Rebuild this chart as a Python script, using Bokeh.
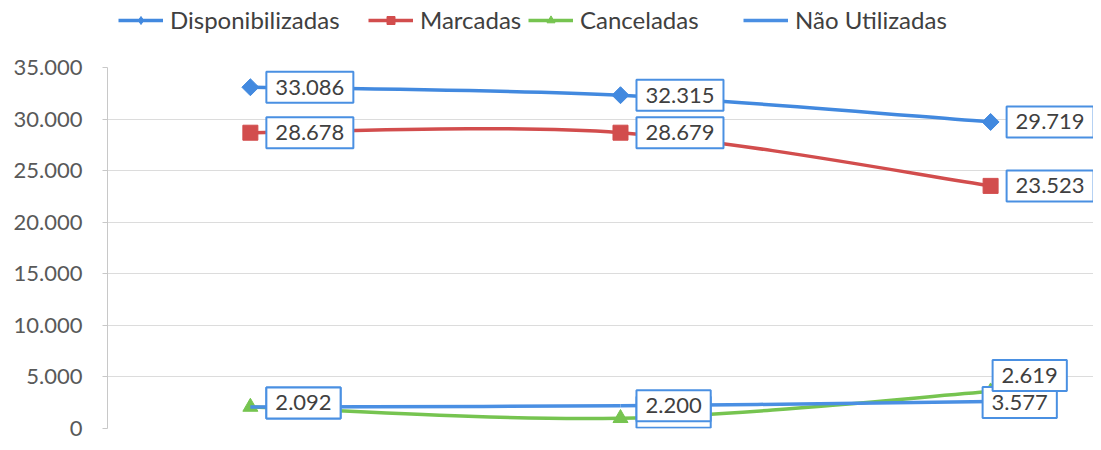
import math
from bokeh.plotting import figure
from bokeh.layouts import column
from bokeh.models import (Range1d, ColumnDataSource, Legend, LegendItem, FixedTicker, Label)
from bokeh.embed import file_html
from bokeh.resources import INLINE

# ---------------- data ----------------
categories = ["Período 1", "Período 2", "Período 3"]
series_names = ["Disponibilizadas", "Marcadas", "Canceladas", "Não Utilizadas"]
disponibilizadas = [33086, 32315, 29719]
marcadas = [28678, 28679, 23523]
canceladas = [2092, 1000, 3577]
nao_utilizadas = [2092, 2200, 2619]
y_ticks = [0, 5000, 10000, 15000, 20000, 25000, 30000, 35000]
y_tick_labels = ["0", "5.000", "10.000", "15.000", "20.000", "25.000", "30.000", "35.000"]

# ---------------- styles ----------------
FONT = "Lato"
colors = ["#4289df", "#d24d4d", "#76c450", "#4a8fe3"]
label_border = "#4a90e2"
legend_x = [11, 261, 421, 636]
# per-label pixel offsets of the data-label boxes (dx: box left from point, dy: up)
label_dx = [
    [16, 16, 16],
    [16, 16, 16],
    [16, 16, -8],
    [16, 16, 2],
]
label_dy = [
    [0, 0, 0],
    [0, 0, 0],
    [4, 6, -11],
    [4, 0, 26],
]
PAD_X, PAD_Y = 9, 8
NAN = float("nan")

xs = list(range(len(categories)))

# ---------- legend strip ----------
lg = figure(width=1093, height=40, output_backend="svg", toolbar_location=None,
            x_range=Range1d(0, 1), y_range=Range1d(0, 1),
            x_axis_type=None, y_axis_type=None,
            min_border_left=0, min_border_right=0, min_border_top=0, min_border_bottom=0)
lg.outline_line_color = None
lg.xgrid.visible = False
lg.ygrid.visible = False

# ---------- main chart ----------
p = figure(width=1093, height=402, output_backend="svg", toolbar_location=None,
           x_range=Range1d(-0.386, 2.278), y_range=Range1d(0, 35000),
           min_border_left=107, min_border_right=0, min_border_top=27,
           min_border_bottom=14)
p.outline_line_color = None
p.background_fill_color = "white"
p.border_fill_color = "white"

p.xaxis.visible = False
p.xgrid.visible = False

p.yaxis.ticker = FixedTicker(ticks=y_ticks)
p.yaxis.major_label_overrides = {t: s for t, s in zip(y_ticks, y_tick_labels)}
p.yaxis.major_label_text_font = FONT
p.yaxis.major_label_text_font_size = "22px"
p.yaxis.major_label_text_color = "#595959"
p.yaxis.axis_line_color = "#c8c8c8"
p.yaxis.major_tick_line_color = "#c8c8c8"
p.yaxis.major_tick_out = 5
p.yaxis.major_tick_in = 0
p.yaxis.minor_tick_line_color = None
p.yaxis.major_label_standoff = 20
p.ygrid.ticker = FixedTicker(ticks=y_ticks)
p.ygrid.grid_line_color = "#dcdcdc"
p.ygrid.grid_line_width = 1


def smooth(xv, yv):
    n = len(xv)
    out = dict(x0=[], y0=[], x1=[], y1=[], cx0=[], cy0=[], cx1=[], cy1=[])
    for i in range(n - 1):
        i0 = max(i - 1, 0)
        i3 = min(i + 2, n - 1)
        out["x0"].append(xv[i]); out["y0"].append(yv[i])
        out["x1"].append(xv[i + 1]); out["y1"].append(yv[i + 1])
        out["cx0"].append(xv[i] + (xv[i + 1] - xv[i0]) / 6)
        out["cy0"].append(yv[i] + (yv[i + 1] - yv[i0]) / 6)
        out["cx1"].append(xv[i + 1] - (xv[i3] - xv[i]) / 6)
        out["cy1"].append(yv[i + 1] - (yv[i3] - yv[i]) / 6)
    return out


all_series = [disponibilizadas, marcadas, canceladas, nao_utilizadas]
markers = [("square", math.pi / 4, 12), ("square", 0, 15), ("triangle", 0, 15), None]
legend_markers = ["diamond", "square", "triangle", None]

for name, ys, col, mk, lmk, lx in zip(series_names, all_series, colors, markers,
                                     legend_markers, legend_x):
    p.bezier(source=ColumnDataSource(smooth(xs, ys)), x0="x0", y0="y0", x1="x1", y1="y1",
             cx0="cx0", cy0="cy0", cx1="cx1", cy1="cy1", line_color=col, line_width=3.5)
    if mk is not None:
        m, ang, sz = mk
        p.scatter(x=xs, y=ys, marker=m, angle=ang, size=sz, fill_color=col, line_color=col)
    rends = [lg.line(x=[NAN], y=[NAN], line_color=col, line_width=3.5)]
    if lmk is not None:
        rends.append(lg.scatter(x=[NAN], y=[NAN], marker=lmk, size=12,
                                fill_color=col, line_color=col))
    leg = Legend(items=[LegendItem(label=name, renderers=rends)],
                 location=(lx, 6), orientation="horizontal",
                 label_text_font=FONT, label_text_font_size="24px",
                 label_text_color="#404040", glyph_width=45, glyph_height=20,
                 label_standoff=7, padding=0, margin=0,
                 border_line_color=None, background_fill_alpha=0)
    lg.add_layout(leg, "center")

# data labels (last series drawn on top)
for ys, dxs, dys in zip(all_series, label_dx, label_dy):
    for xv, yv, dx, dy in zip(xs, ys, dxs, dys):
        p.add_layout(Label(x=xv, y=yv, text=f"{yv:,}".replace(",", "."),
                           x_offset=dx, y_offset=dy,
                           text_align="left", text_baseline="middle",
                           text_font=FONT, text_font_size="22px", text_color="#404040",
                           background_fill_color="white", border_line_color=label_border,
                           border_line_width=2, padding=(PAD_X, PAD_Y)))

layout = column(lg, p, spacing=0)
open("out.html", "w").write(file_html(layout, INLINE))
